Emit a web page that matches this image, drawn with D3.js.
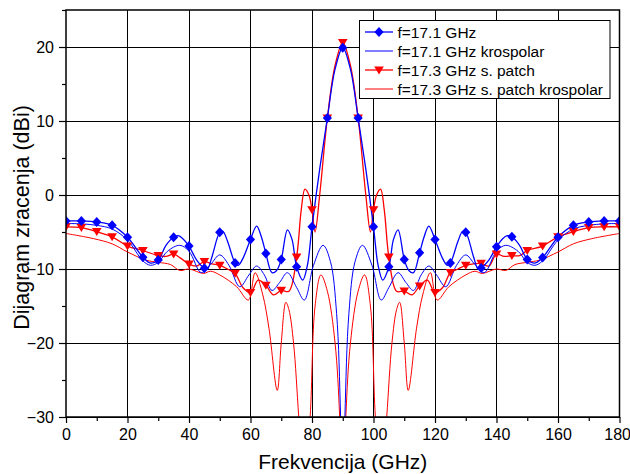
<!DOCTYPE html>
<html><head><meta charset="utf-8">
<script src="https://cdn.jsdelivr.net/npm/d3@7"></script>
<style>body{margin:0;background:#fff}svg{display:block}text{font-family:Arial,"Liberation Sans",sans-serif}</style>
</head><body><svg id="c" width="630" height="474"></svg>
<script>
// ---- data (angle in degrees, value in dBi) ----
const markerAngles = [0,5,10,15,20,25,30,35,40,45,50,55,60,65,70,75,80,85,90,95,100,105,110,115,120,125,130,135,140,145,150,155,160,165,170,175,180];
const co171Markers = [-3.5,-3.5,-3.65,-4.1,-5.7,-8.4,-8.8,-5.7,-6.9,-9.9,-5.05,-9.2,-6.0,-7.9,-8.7,-9.7,-4.3,10.4,19.9,10.4,-4.3,-9.7,-8.7,-7.8,-6.0,-9.2,-5.05,-9.85,-7.0,-5.65,-8.7,-8.45,-5.7,-4.1,-3.65,-3.5,-3.5];
const co173Markers = [-4.3,-4.4,-4.95,-5.65,-6.9,-7.5,-8.2,-8.0,-9.35,-9.0,-9.5,-10.6,-13.2,-12.2,-12.9,-8.4,-2.0,10.4,20.6,10.4,-2.0,-8.4,-13.0,-12.3,-13.2,-10.5,-9.5,-9.25,-8.0,-8.2,-7.5,-6.9,-5.65,-4.95,-4.4,-4.3,-4.3];

const co171Angles = [0,5,10,15,20,25,27.5,30,32.5,35,36.5,38,40,42.5,45,46,47.5,50,51,52.5,55,56,57.5,60,62,63.5,65,67,68.5,70,72,73.5,75,77,78.5,80,82.5,85,87.5,90,
  92.5,95,97.5,100,101.5,103,105,106.5,108,110,111.5,113,115,116.5,118,120,122.5,124,125,127.5,129,130,132.5,134,135,137.5,140,142,143.5,145,147.5,150,152.5,155,160,165,170,175,180];
const co171Values = [-3.5,-3.5,-3.65,-4.1,-5.7,-8.4,-9.2,-8.8,-6.8,-5.7,-5.5,-5.9,-6.9,-8.8,-9.9,-10.0,-8.3,-5.05,-4.9,-6.2,-9.2,-9.5,-8.6,-6.0,-4.2,-5.6,-7.9,-10.5,-10.2,-8.7,-4.7,-6.0,-9.7,-11.5,-9.5,-4.3,3.5,10.4,17.0,19.9,
  17.0,10.4,3.5,-4.3,-9.5,-11.5,-9.7,-6.0,-4.7,-8.7,-10.2,-10.5,-7.8,-5.6,-4.2,-6.0,-8.6,-9.5,-9.2,-6.2,-4.9,-5.05,-8.3,-10.0,-9.85,-8.8,-7.0,-5.9,-5.5,-5.65,-6.8,-8.7,-9.2,-8.45,-5.7,-4.1,-3.65,-3.5,-3.5];

const cx171Angles = [0,5,10,15,20,25,27.5,30,33,37,40,44,47,50,53,56.5,59.5,62,64.5,67,69.5,72,75,77.5,80.5,83.6,86,88,89.3,90,
  90.7,92,94,96.4,99.5,102.5,105,108,110.5,113,115.5,118,120.5,123.5,127,130,133,136,140,143,147,150,152.5,155,160,165,170,175,180];
const cx171Values = [-3.85,-3.9,-4.1,-4.6,-6.1,-8.9,-9.5,-9.1,-7.6,-6.8,-7.6,-10.5,-9.4,-8.1,-9.5,-12.4,-10.8,-9.6,-10.8,-12.9,-11.8,-10.5,-12.5,-14.2,-9.5,-6.8,-9.0,-16,-30,-45,
  -30,-16,-9.0,-6.8,-9.5,-14.2,-12.5,-10.5,-11.8,-12.9,-10.8,-9.6,-10.8,-12.4,-9.5,-8.1,-9.4,-10.5,-7.6,-6.8,-7.6,-9.1,-9.5,-8.9,-6.1,-4.6,-4.1,-3.9,-3.85];

const co173Angles = [0,5,10,15,20,25,30,32.5,35,37.5,40,42.5,45,47.5,50,52.5,55,57.5,60,62.5,65,67.5,70,72.5,75,76.5,77.7,79,80,81,82.5,85,87.5,90,
  92.5,95,97.5,99,100,101,102.3,103.5,105,107.5,110,112.5,115,117.5,120,122.5,125,127.5,130,132.5,135,137.5,140,142.5,145,147.5,150,155,160,165,170,175,180];
const co173Values = [-4.3,-4.4,-4.95,-5.65,-6.9,-7.5,-8.2,-8.3,-8.0,-8.6,-9.35,-9.6,-9.0,-9.3,-9.5,-10.0,-10.6,-12.5,-13.2,-11.5,-12.2,-13.5,-12.9,-13.0,-8.4,-2.0,0.8,0.0,-2.0,-5.0,0.0,10.4,17.5,20.6,
  17.5,10.4,0.0,-5.0,-2.0,0.0,0.8,-2.0,-8.4,-13.0,-13.0,-13.5,-12.3,-11.5,-13.2,-12.5,-10.5,-10.0,-9.5,-9.3,-9.25,-9.6,-8.0,-8.3,-8.2,-8.2,-7.5,-6.9,-5.65,-4.95,-4.4,-4.3,-4.3];

const cx173Angles = [0,9,15,20,26,30,34,37,40,44.7,47,50,55.5,59.3,61.5,64,66,68.7,70,71.5,72.5,74,75.7,77.5,79.4,81,82.9,85,87.5,89,90,
  91,92.5,95,97.1,99,100.6,102.5,104.3,106,107.5,108.5,110,111.3,114,116,118.5,120.7,124.5,130,133,135.3,140,143,146,150,154,160,165,171,180];
const cx173Values = [-5.2,-5.9,-6.6,-7.7,-8.8,-9.1,-9.4,-10.2,-10.0,-10.6,-10.3,-10.8,-12.4,-14.2,-10.5,-13.5,-18,-26.4,-20,-14.5,-15.5,-20,-30,-40,-30,-15,-10.8,-13,-20,-30,-45,
  -30,-20,-13,-10.8,-15,-30,-40,-30,-20,-15.5,-14.5,-20,-26.4,-18,-13.5,-10.5,-14.2,-12.4,-10.8,-10.3,-10.6,-10.0,-10.2,-9.4,-9.1,-8.8,-7.7,-6.6,-5.9,-5.2];

const xTicks = [0,20,40,60,80,100,120,140,160,180];
const yTicks = [-30,-20,-10,0,10,20];
const legendLabels = ["f=17.1 GHz","f=17.1 GHz krospolar","f=17.3 GHz s. patch","f=17.3 GHz s. patch krospolar"];

// ---- layout ----
const svg = d3.select("#c");
const L = 66, R = 619.5, T = 10, B = 417;
const x = d3.scaleLinear().domain([0,180]).range([L,R]);
const y = d3.scaleLinear().domain([-30,25]).range([B,T]);
const BLUE = "#0000ff", RED = "#ff0000";

svg.append("defs").append("clipPath").attr("id","clip")
  .append("rect").attr("x",L).attr("y",T).attr("width",R-L).attr("height",B-T);

// grid
const g = svg.append("g");
g.selectAll(".vg").data(xTicks.slice(1,-1)).join("line")
  .attr("x1",d=>x(d)).attr("x2",d=>x(d)).attr("y1",T).attr("y2",B)
  .attr("stroke","#000").attr("stroke-width",1).attr("shape-rendering","crispEdges");
g.selectAll(".hg").data(yTicks).join("line")
  .attr("x1",L).attr("x2",R).attr("y1",d=>y(d)).attr("y2",d=>y(d))
  .attr("stroke","#000").attr("stroke-width",1).attr("shape-rendering","crispEdges");

// axes
const xAxis = d3.axisBottom(x).tickValues(xTicks).tickSize(6).tickPadding(6).tickFormat(d3.format("d"));
const xMinor = d3.axisBottom(x).tickValues(d3.range(10,180,20)).tickSize(4).tickFormat("");
const yAxis = d3.axisLeft(y).tickValues(yTicks).tickSize(7).tickPadding(5).tickFormat(d3.format("d"));
const yMinor = d3.axisLeft(y).tickValues([-25,-15,-5,5,15,25]).tickSize(4).tickFormat("");
function styleAxis(sel){
  sel.select(".domain").remove();
  sel.selectAll("line").attr("stroke","#000").attr("stroke-width",1.2);
  sel.selectAll("text").attr("font-size","16px").attr("fill","#000").attr("font-family","Arial, 'Liberation Sans', sans-serif");
}
const xg = svg.append("g").attr("transform",`translate(0,${B})`).call(xAxis).call(styleAxis);
xg.selectAll(".tick text").filter(d=>d===180).attr("text-anchor","end").attr("dx","11");
svg.append("g").attr("transform",`translate(0,${B})`).call(xMinor).call(styleAxis);
svg.append("g").attr("transform",`translate(${L},0)`).call(yAxis).call(styleAxis);
svg.append("g").attr("transform",`translate(${L},0)`).call(yMinor).call(styleAxis);

// curves
const plot = svg.append("g").attr("clip-path","url(#clip)");
const line = d3.line().x(d=>x(d[0])).y(d=>y(d[1])).curve(d3.curveCatmullRom.alpha(0.5));
function addLine(angles, values, color, w){
  plot.append("path").datum(angles.map((a,i)=>[a,values[i]]))
    .attr("d",line).attr("fill","none").attr("stroke",color).attr("stroke-width",w);
}
addLine(cx173Angles, cx173Values, RED, 1);
addLine(co173Angles, co173Values, RED, 1.3);
addLine(cx171Angles, cx171Values, BLUE, 1);
addLine(co171Angles, co171Values, BLUE, 1.3);

const diamond = "M0,-5L4.6,0L0,5L-4.6,0Z";
const tri = "M-4.8,-3.6L4.8,-3.6L0,4.4Z";
plot.selectAll(".tri").data(markerAngles.map((a,i)=>[a,co173Markers[i]])).join("path")
  .attr("d",tri).attr("transform",d=>`translate(${x(d[0])},${y(d[1])})`).attr("fill",RED);
plot.selectAll(".dia").data(markerAngles.map((a,i)=>[a,co171Markers[i]])).join("path")
  .attr("d",diamond).attr("transform",d=>`translate(${x(d[0])},${y(d[1])})`).attr("fill",BLUE);

// frame
svg.append("rect").attr("x",L).attr("y",T).attr("width",R-L).attr("height",B-T)
  .attr("fill","none").attr("stroke","#000").attr("stroke-width",1.5);

// axis titles
svg.append("text").attr("x",(L+R)/2).attr("y",469).attr("text-anchor","middle")
  .attr("font-size","21px").text("Frekvencija (GHz)");
svg.append("text").attr("transform",`translate(29,${(T+B)/2+4}) rotate(-90)`).attr("text-anchor","middle")
  .attr("font-size","21.5px").text("Dijagram zracenja (dBi)");

// legend
const lg = svg.append("g");
lg.append("rect").attr("x",359.5).attr("y",20.5).attr("width",250.5).attr("height",78)
  .attr("fill","#fff").attr("stroke","#000").attr("stroke-width",1);
const ly = [32,51,70,89];
const lcol = [BLUE,BLUE,RED,RED];
legendLabels.forEach((t,i)=>{
  lg.append("line").attr("x1",365).attr("x2",393).attr("y1",ly[i]).attr("y2",ly[i])
    .attr("stroke",lcol[i]).attr("stroke-width",i%2===0?1.3:1);
  if(i===0) lg.append("path").attr("d",diamond).attr("transform",`translate(379,${ly[i]})`).attr("fill",BLUE);
  if(i===2) lg.append("path").attr("d",tri).attr("transform",`translate(379,${ly[i]})`).attr("fill",RED);
  lg.append("text").attr("x",397.5).attr("y",ly[i]+5.5).attr("font-size","15.5px").text(t);
});
</script></body></html>
